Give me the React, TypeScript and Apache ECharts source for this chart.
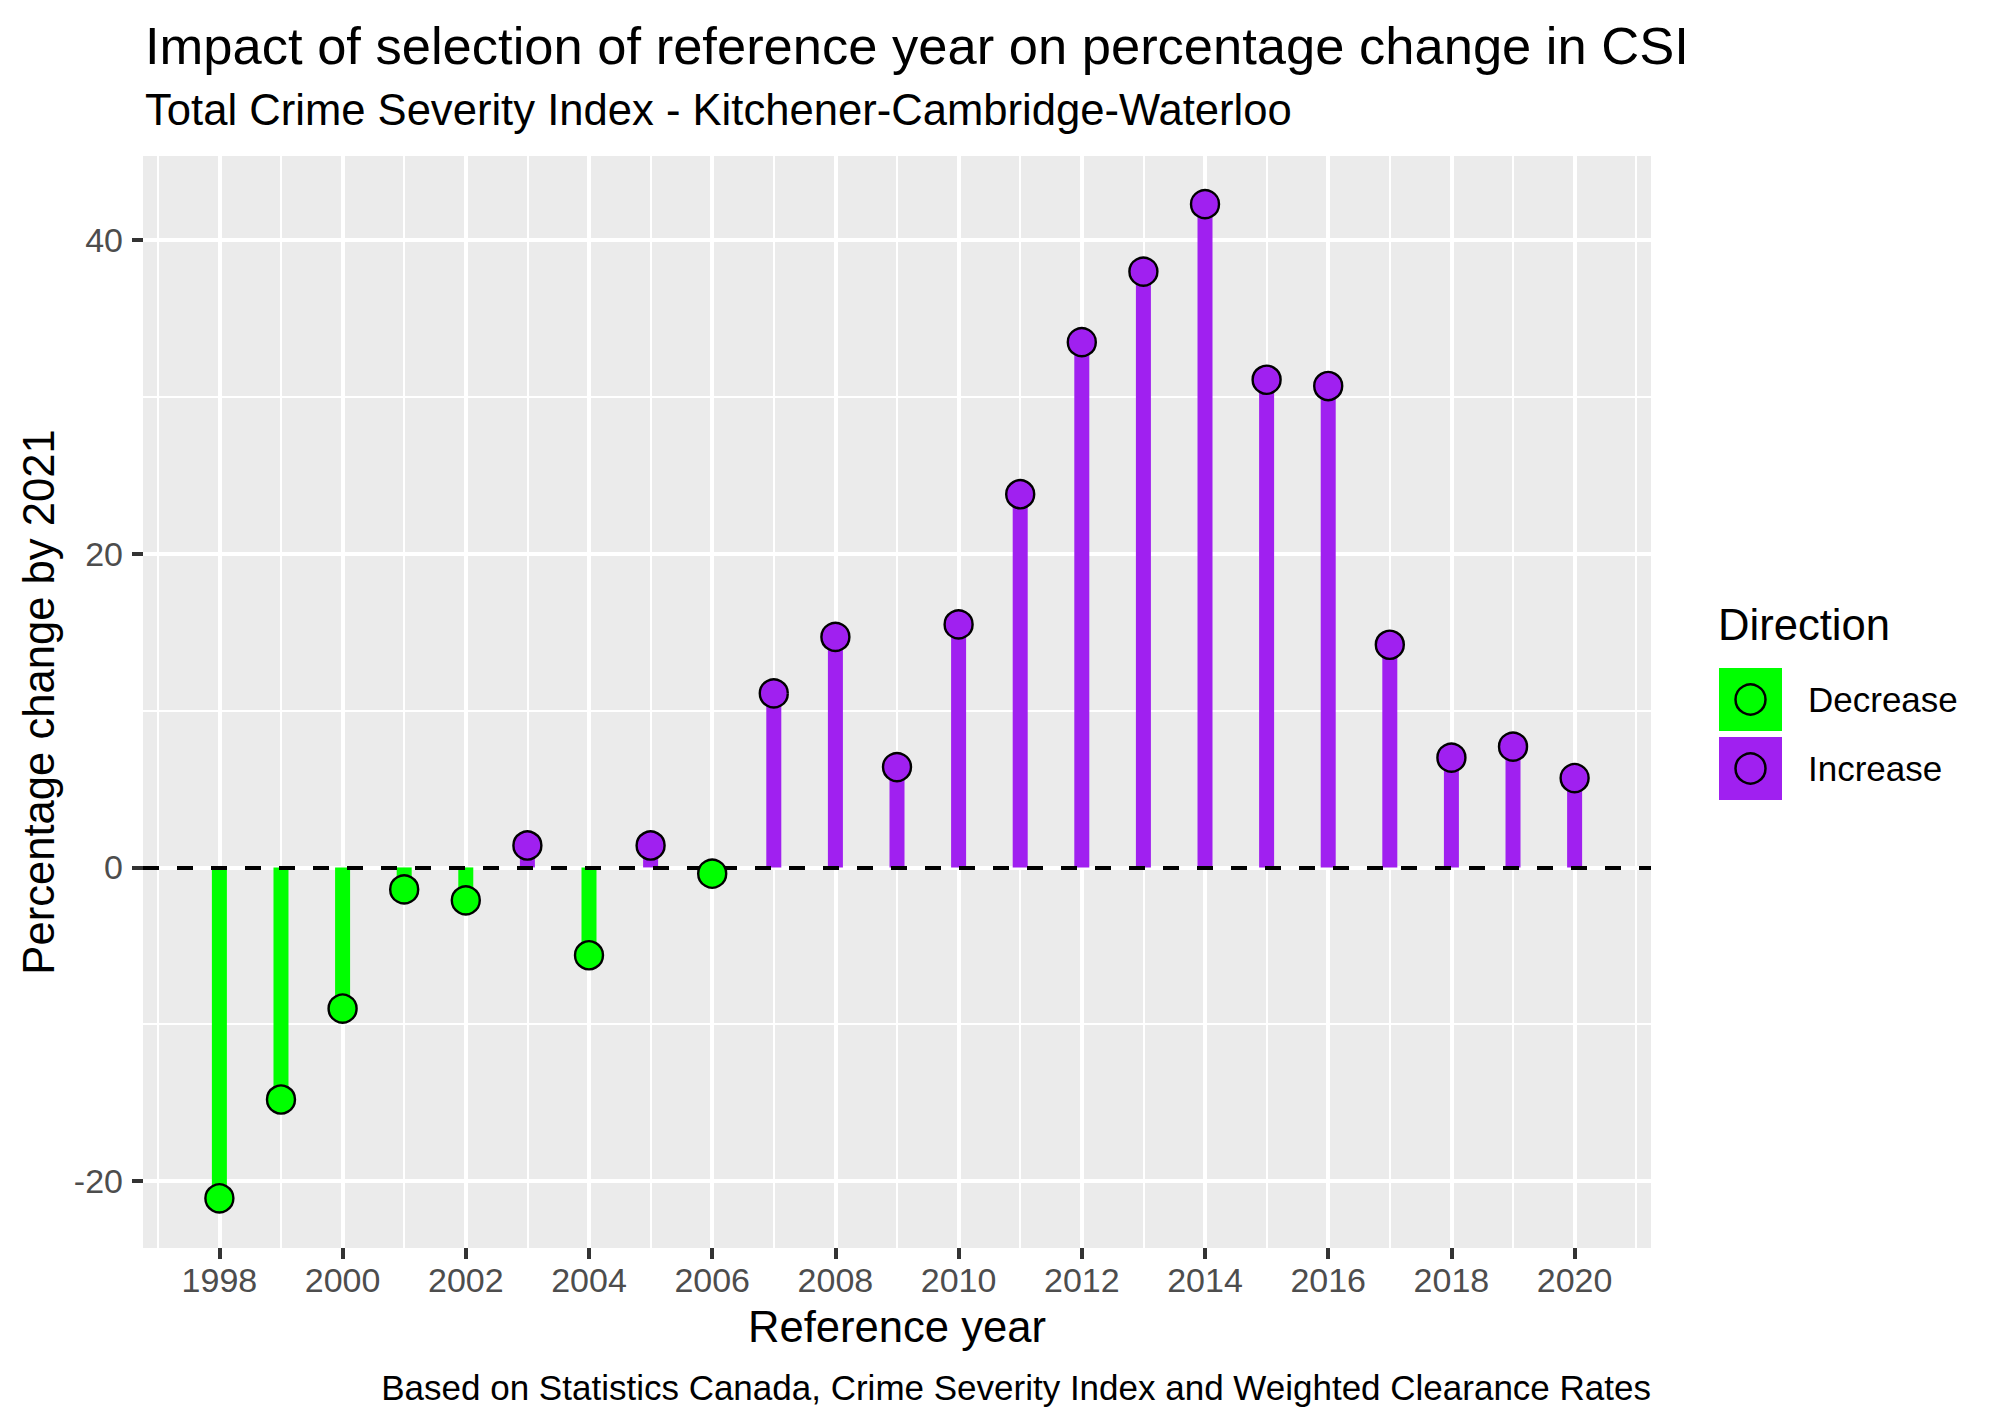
import React, { useEffect, useRef } from "react";
import * as echarts from "echarts";

const years = [1998, 1999, 2000, 2001, 2002, 2003, 2004, 2005, 2006, 2007, 2008, 2009, 2010, 2011, 2012, 2013, 2014, 2015, 2016, 2017, 2018, 2019, 2020];
const pctChange = [-21.1, -14.8, -9.0, -1.4, -2.1, 1.4, -5.6, 1.4, -0.4, 11.1, 14.7, 6.4, 15.5, 23.8, 33.5, 38.0, 42.3, 31.1, 30.7, 14.2, 7.0, 7.7, 5.7];
const xTickYears = [1998, 2000, 2002, 2004, 2006, 2008, 2010, 2012, 2014, 2016, 2018, 2020];
const xMinorYears = [1997, 1999, 2001, 2003, 2005, 2007, 2009, 2011, 2013, 2015, 2017, 2019, 2021];
const yTicks = [-20, 0, 20, 40];
const yMinor = [-10, 10, 30];
const legendItems = ["Decrease", "Increase"];

const GREEN = "#00FF00";
const PURPLE = "#A020F0";
const FONT = '"Liberation Sans", Arial, Helvetica, sans-serif';

export default function App() {
  const ref = useRef<HTMLDivElement>(null);
  useEffect(() => {
    document.body.style.margin = "0";
    const chart = echarts.init(ref.current!, null, { renderer: "svg" });
    const pts = years.map((y, i) => [y, pctChange[i]]);
    const colorOf = (v: number) => (v < 0 ? GREEN : PURPLE);
    const gridLine = (w: number) => ({ color: "#FFFFFF", width: w, type: "solid" });
    const mlBase = {
      silent: true,
      symbol: ["none", "none"],
      label: { show: false },
      emphasis: { disabled: true },
      animation: false,
    };
    const legendColors = [GREEN, PURPLE];
    const legendGraphics: any[] = [];
    legendItems.forEach((name, i) => {
      const top = 668 + i * 69;
      legendGraphics.push({
        type: "rect",
        shape: { x: 1719, y: top, width: 63, height: 63 },
        style: { fill: legendColors[i] },
      });
      legendGraphics.push({
        type: "circle",
        shape: { cx: 1750.5, cy: top + 31.5, r: 15 },
        style: { fill: "none", stroke: "#000", lineWidth: 2.5 },
      });
      legendGraphics.push({
        type: "text",
        x: 1808,
        y: top + 31.5,
        style: { text: name, font: `35px ${FONT}`, fill: "#000", textAlign: "left", textVerticalAlign: "middle", align: "left", verticalAlign: "middle" },
      });
    });

    chart.setOption({
      animation: false,
      backgroundColor: "#FFFFFF",
      grid: {
        left: 143,
        top: 156,
        width: 1508,
        height: 1092,
        show: true,
        backgroundColor: "#EBEBEB",
        borderWidth: 0,
      },
      xAxis: {
        type: "value",
        position: "bottom",
        min: 1996.76,
        max: 2021.24,
        axisLine: { show: false, onZero: false },
        splitLine: { show: false },
        axisTick: { show: true, customValues: xTickYears, length: 11, lineStyle: { color: "#333333", width: 4 } },
        axisLabel: {
          customValues: xTickYears,
          formatter: (v: number) => String(v),
          color: "#4D4D4D",
          fontSize: 34,
          fontFamily: FONT,
          margin: 32,
          verticalAlign: "middle",
        },
      },
      yAxis: {
        type: "value",
        position: "left",
        min: -24.27,
        max: 45.37,
        axisLine: { show: false, onZero: false },
        splitLine: { show: false },
        axisTick: { show: true, customValues: yTicks, length: 11, lineStyle: { color: "#333333", width: 4 } },
        axisLabel: {
          customValues: yTicks,
          formatter: (v: number) => String(v),
          color: "#4D4D4D",
          fontSize: 34,
          fontFamily: FONT,
          margin: 20,
        },
      },
      graphic: [
        {
          type: "text",
          x: 145,
          y: 45,
          style: { text: "Impact of selection of reference year on percentage change in CSI", font: `52.5px ${FONT}`, fill: "#000", textAlign: "left", textVerticalAlign: "middle", align: "left", verticalAlign: "middle" },
        },
        {
          type: "text",
          x: 145,
          y: 110,
          style: { text: "Total Crime Severity Index - Kitchener-Cambridge-Waterloo", font: `43.6px ${FONT}`, fill: "#000", textAlign: "left", textVerticalAlign: "middle", align: "left", verticalAlign: "middle" },
        },
        {
          type: "text",
          x: 39,
          y: 702,
          rotation: Math.PI / 2,
          style: { text: "Percentage change by 2021", font: `43.6px ${FONT}`, fill: "#000", textAlign: "center", textVerticalAlign: "middle", align: "center", verticalAlign: "middle" },
        },
        {
          type: "text",
          x: 897,
          y: 1327,
          style: { text: "Reference year", font: `43.6px ${FONT}`, fill: "#000", textAlign: "center", textVerticalAlign: "middle", align: "center", verticalAlign: "middle" },
        },
        {
          type: "text",
          x: 1651,
          y: 1387,
          style: { text: "Based on Statistics Canada, Crime Severity Index and Weighted Clearance Rates", font: `35px ${FONT}`, fill: "#000", textAlign: "right", textVerticalAlign: "middle", align: "right", verticalAlign: "middle" },
        },
        {
          type: "text",
          x: 1718,
          y: 625,
          style: { text: "Direction", font: `43.6px ${FONT}`, fill: "#000", textAlign: "left", textVerticalAlign: "middle", align: "left", verticalAlign: "middle" },
        },
        ...legendGraphics,
      ],
      series: [
        {
          type: "scatter",
          data: [],
          z: 0,
          markLine: {
            ...mlBase,
            z: 0,
            data: [
              ...xMinorYears.map((x) => ({ xAxis: x, lineStyle: gridLine(2) })),
              ...yMinor.map((y) => ({ yAxis: y, lineStyle: gridLine(2) })),
            ],
          },
        },
        {
          type: "scatter",
          data: [],
          z: 0,
          markLine: {
            ...mlBase,
            z: 0,
            data: [
              ...xTickYears.map((x) => ({ xAxis: x, lineStyle: gridLine(4) })),
              ...yTicks.map((y) => ({ yAxis: y, lineStyle: gridLine(4) })),
            ],
          },
        },
        {
          type: "bar",
          data: pts,
          barWidth: 15,
          z: 2,
          silent: true,
          itemStyle: { color: (p: any) => colorOf(p.value[1]) },
        },
        {
          type: "scatter",
          data: [],
          z: 3,
          markLine: {
            ...mlBase,
            z: 3,
            data: [{ yAxis: 0, lineStyle: { color: "#000", width: 4.2, type: [16, 18] } }],
          },
        },
        {
          type: "scatter",
          data: pts,
          z: 4,
          symbol: "circle",
          symbolSize: 28,
          silent: true,
          itemStyle: { color: (p: any) => colorOf(p.value[1]), borderColor: "#000", borderWidth: 2.4, opacity: 1 },
        },
      ],
    });
    return () => chart.dispose();
  }, []);
  return <div ref={ref} style={{ width: 2000, height: 1428 }} />;
}
